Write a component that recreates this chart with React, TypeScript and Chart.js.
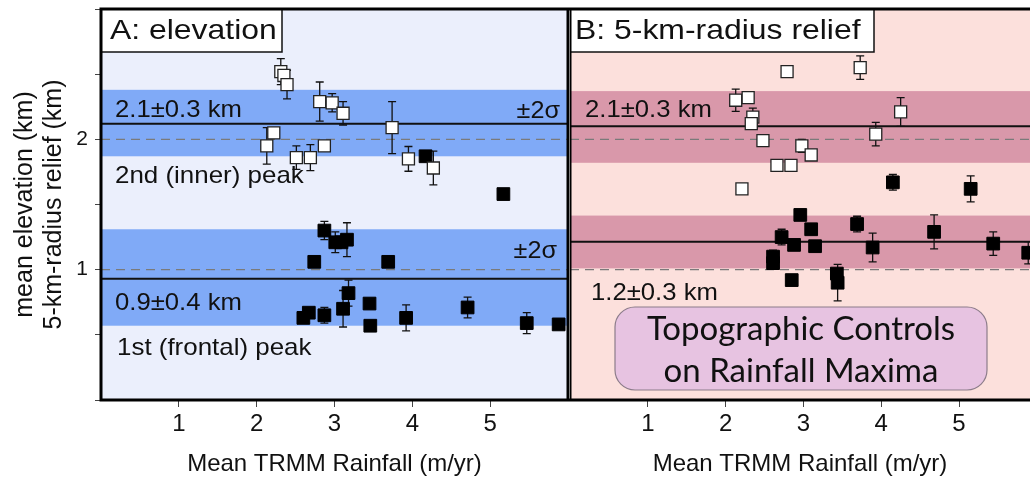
import React, { useEffect, useRef } from "react";
import { Chart, registerables } from "chart.js";

Chart.register(...registerables);

const FONT = "'Liberation Sans', Arial, Helvetica, sans-serif";
const BOX_FONT = "Lato, 'Open Sans', sans-serif";

// ---------------- data ----------------
const xTickLabels = [1, 2, 3, 4, 5];
const yTickLabels = [1, 2];
const refLevels = [1, 2];

// Panel A: mean elevation
const aInnerX = [2.31, 2.35, 2.39, 2.81, 2.97, 3.11, 3.74, 2.22, 2.13, 2.51, 2.69, 2.87, 3.95, 4.27];
const aInnerY = [2.52, 2.49, 2.42, 2.29, 2.28, 2.2, 2.09, 2.05, 1.95, 1.86, 1.86, 1.95, 1.85, 1.78];
const aInnerErr = [0.1, 0, 0.11, 0.15, 0.07, 0.09, 0.2, 0, 0.14, 0.09, 0.1, 0, 0.095, 0.13];

const aFrontalX = [4.17, 5.17, 2.87, 2.74, 3.01, 3.09, 3.16, 3.69, 2.6, 2.67, 2.87, 3.18, 3.11, 3.45, 3.46, 3.92, 4.71, 5.47, 5.88];
const aFrontalY = [1.87, 1.58, 1.3, 1.06, 1.21, 1.21, 1.23, 1.06, 0.63, 0.67, 0.65, 0.82, 0.7, 0.74, 0.57, 0.63, 0.71, 0.59, 0.58];
const aFrontalErr = [0, 0, 0.07, 0, 0.08, 0, 0.13, 0, 0, 0, 0.06, 0.1, 0.14, 0, 0, 0.1, 0.08, 0.08, 0];

const aBandLow = [1.87, 0.57];
const aBandHigh = [2.38, 1.31];
const aMean = [2.12, 0.93];

// Panel B: 5-km-radius relief
const bInnerX = [2.79, 2.13, 2.29, 2.35, 2.33, 2.48, 2.98, 2.66, 2.84, 2.21, 3.73, 4.25, 3.93, 3.1];
const bInnerY = [2.52, 2.3, 2.32, 2.17, 2.12, 1.99, 1.95, 1.8, 1.8, 1.62, 2.55, 2.21, 2.04, 1.88];
const bInnerErr = [0, 0.085, 0, 0.07, 0, 0.04, 0.05, 0, 0.04, 0, 0.09, 0.11, 0.09, 0];

const bFrontalX = [4.15, 5.15, 2.96, 2.72, 2.88, 2.61, 2.61, 2.85, 3.1, 3.15, 3.69, 3.89, 3.43, 3.44, 4.68, 5.44, 5.89];
const bFrontalY = [1.67, 1.62, 1.42, 1.25, 1.19, 1.1, 1.05, 0.92, 1.31, 1.18, 1.35, 1.17, 0.97, 0.9, 1.29, 1.2, 1.13];
const bFrontalErr = [0.06, 0.1, 0, 0.06, 0, 0.05, 0, 0, 0, 0, 0.06, 0.11, 0, 0.14, 0.13, 0.09, 0.085];

const bBandLow = [1.82, 1.01];
const bBandHigh = [2.37, 1.415];
const bMean = [2.1, 1.215];

const aTitle = "A: elevation";
const bTitle = "B: 5-km-radius relief";
const aLabels = ["2.1±0.3 km", "2nd (inner) peak", "±2σ", "±2σ", "0.9±0.4 km", "1st (frontal) peak"];
const bLabels = ["2.1±0.3 km", "1.2±0.3 km"];
const boxLines = ["Topographic Controls", "on Rainfall Maxima"];
const xTitle = "Mean TRMM Rainfall (m/yr)";
const yTitle = ["mean elevation (km)", "5-km-radius relief (km)"];

// ---------------- helpers ----------------
function toPoints(xs: number[], ys: number[]) {
  return xs.map((x, i) => ({ x, y: ys[i] }));
}

function drawText(
  ctx: CanvasRenderingContext2D,
  s: string,
  x: number,
  y: number,
  size: number,
  sx: number,
  align: "left" | "right" | "center" = "left",
  family = FONT,
  color = "#111"
) {
  ctx.save();
  ctx.font = `${size}px ${family}`;
  ctx.fillStyle = color;
  ctx.textBaseline = "alphabetic";
  ctx.textAlign = "left";
  const w = ctx.measureText(s).width * sx;
  const x0 = align === "left" ? x : align === "right" ? x - w : x - w / 2;
  ctx.translate(x0, y);
  ctx.scale(sx, 1);
  ctx.fillText(s, 0, 0);
  ctx.restore();
}

function roundRect(ctx: CanvasRenderingContext2D, x: number, y: number, w: number, h: number, r: number) {
  ctx.beginPath();
  ctx.moveTo(x + r, y);
  ctx.lineTo(x + w - r, y);
  ctx.arcTo(x + w, y, x + w, y + r, r);
  ctx.lineTo(x + w, y + h - r);
  ctx.arcTo(x + w, y + h, x + w - r, y + h, r);
  ctx.lineTo(x + r, y + h);
  ctx.arcTo(x, y + h, x, y + h - r, r);
  ctx.lineTo(x, y + r);
  ctx.arcTo(x, y, x + r, y, r);
  ctx.closePath();
}

type Label = { t: string; x: number; y: number; size: number; sx: number; align: "left" | "right" };

type PanelCfg = {
  bg: string;
  band: string;
  low: number[];
  high: number[];
  mean: number[];
  errs: number[][];
  labels: Label[];
  title: { text: string; x0: number; x1: number; y0: number; y1: number; tx: number; ty: number };
  rightFrame: boolean;
  bigBox?: { x: number; y: number; w: number; h: number; cx: number; lines: string[]; baselines: number[] };
};

function panelPlugin(p: PanelCfg) {
  return {
    id: "panelDecor",
    beforeDraw(chart: any) {
      const { ctx, chartArea: ca, scales } = chart;
      const ys = scales.y;
      const w = ca.right - ca.left;
      ctx.save();
      ctx.fillStyle = p.bg;
      ctx.fillRect(ca.left, ca.top, w, ca.bottom - ca.top);
      ctx.fillStyle = p.band;
      p.low.forEach((lo, i) => {
        const y1 = ys.getPixelForValue(p.high[i]);
        const y2 = ys.getPixelForValue(lo);
        ctx.fillRect(ca.left, y1, w, y2 - y1);
      });
      ctx.strokeStyle = "#7a7a7a";
      ctx.lineWidth = 1.3;
      ctx.setLineDash([9, 6]);
      refLevels.forEach((v) => {
        const y = ys.getPixelForValue(v);
        ctx.beginPath();
        ctx.moveTo(ca.left, y);
        ctx.lineTo(ca.right, y);
        ctx.stroke();
      });
      ctx.setLineDash([]);
      ctx.strokeStyle = "#111";
      ctx.lineWidth = 2;
      p.mean.forEach((v) => {
        const y = ys.getPixelForValue(v);
        ctx.beginPath();
        ctx.moveTo(ca.left, y);
        ctx.lineTo(ca.right, y);
        ctx.stroke();
      });
      p.labels.forEach((l) => drawText(ctx, l.t, l.x, l.y, l.size, l.sx, l.align));
      ctx.restore();
    },
    beforeDatasetsDraw(chart: any) {
      const { ctx, chartArea: ca, scales } = chart;
      const xs = scales.x;
      const ys = scales.y;
      ctx.save();
      ctx.beginPath();
      ctx.rect(ca.left, ca.top, ca.right - ca.left, ca.bottom - ca.top);
      ctx.clip();
      ctx.strokeStyle = "#111";
      ctx.lineWidth = 1.3;
      chart.data.datasets.forEach((ds: any, di: number) => {
        const errs = p.errs[di];
        ds.data.forEach((pt: any, j: number) => {
          const e = errs[j];
          if (!e) return;
          const x = xs.getPixelForValue(pt.x);
          const y1 = ys.getPixelForValue(pt.y + e);
          const y2 = ys.getPixelForValue(pt.y - e);
          ctx.beginPath();
          ctx.moveTo(x, y1);
          ctx.lineTo(x, y2);
          ctx.moveTo(x - 4, y1);
          ctx.lineTo(x + 4, y1);
          ctx.moveTo(x - 4, y2);
          ctx.lineTo(x + 4, y2);
          ctx.stroke();
        });
      });
      ctx.restore();
    },
    afterDatasetsDraw(chart: any) {
      const { ctx, chartArea: ca } = chart;
      ctx.save();
      // title box
      const t = p.title;
      ctx.fillStyle = "#fff";
      ctx.fillRect(t.x0, t.y0, t.x1 - t.x0, t.y1 - t.y0);
      ctx.strokeStyle = "#111";
      ctx.lineWidth = 1.5;
      ctx.strokeRect(t.x0, t.y0, t.x1 - t.x0, t.y1 - t.y0);
      drawText(ctx, t.text, t.tx, t.ty, 28, 1.14, "left");
      // big box
      if (p.bigBox) {
        const b = p.bigBox;
        roundRect(ctx, b.x, b.y, b.w, b.h, 20);
        ctx.fillStyle = "#E7C3E1";
        ctx.fill();
        ctx.strokeStyle = "#8c7c8a";
        ctx.lineWidth = 1.2;
        ctx.stroke();
        b.lines.forEach((s, i) => drawText(ctx, s, b.cx, b.baselines[i], 33, 1.0, "center", BOX_FONT, "#111"));
      }
      // frame
      ctx.strokeStyle = "#000";
      ctx.lineWidth = 3;
      ctx.beginPath();
      ctx.moveTo(ca.left, ca.top);
      ctx.lineTo(ca.right + 2, ca.top);
      ctx.moveTo(ca.left, ca.bottom);
      ctx.lineTo(ca.right + 2, ca.bottom);
      ctx.moveTo(ca.left, ca.top - 1.5);
      ctx.lineTo(ca.left, ca.bottom + 1.5);
      if (p.rightFrame) {
        ctx.moveTo(ca.right, ca.top - 1.5);
        ctx.lineTo(ca.right, ca.bottom + 1.5);
      }
      ctx.stroke();
      ctx.restore();
    },
  };
}

function buildOptions(isA: boolean, xmax: number) {
  const y: any = {
    display: isA,
    min: 0,
    max: 3,
    ticks: {
      stepSize: 0.5,
      autoSkip: false,
      includeBounds: false,
      padding: 7,
      color: "#111",
      font: { size: 21, family: FONT },
      callback: (v: number) => (yTickLabels.includes(v) ? String(v) : ""),
    },
    grid: { display: true, drawOnChartArea: false, drawTicks: true, tickLength: 6, color: "#444", lineWidth: 1 },
    border: { display: false },
    title: {
      display: true,
      text: yTitle,
      color: "#111",
      font: { size: 25, family: FONT, lineHeight: 1.16 },
      padding: { top: 10.5, bottom: 0 },
    },
  };
  if (isA)
    y.afterFit = (s: any) => {
      s.width = 101;
      s.paddingTop = 0;
      s.paddingBottom = 0;
      s.paddingLeft = 0;
      s.paddingRight = 0;
    };
  return {
    animation: false as const,
    responsive: true,
    maintainAspectRatio: false,
    layout: { autoPadding: false, padding: { top: 9, right: isA ? 2 : 0, bottom: 0, left: 0 } },
    plugins: { legend: { display: false }, tooltip: { enabled: false } },
    scales: {
      x: {
        type: "linear" as const,
        min: 0,
        max: xmax,
        afterFit: (s: any) => {
          s.height = 82;
          s.paddingLeft = 0;
          s.paddingRight = 0;
          s.paddingTop = 0;
          s.paddingBottom = 0;
        },
        ticks: {
          stepSize: 1,
          autoSkip: false,
          includeBounds: false,
          maxRotation: 0,
          padding: 3,
          color: "#111",
          font: { size: 24, family: FONT },
          callback: (v: number) => (xTickLabels.includes(v) ? String(v) : null),
        },
        grid: { display: true, drawOnChartArea: false, drawTicks: true, tickLength: 7, color: "#444", lineWidth: 1 },
        border: { display: false },
        title: {
          display: true,
          text: xTitle,
          color: "#111",
          font: { size: 24, family: FONT },
          padding: { top: 0, bottom: 3 },
        },
      },
      y,
    },
  };
}

function makeDatasets(ix: number[], iy: number[], fx: number[], fy: number[]) {
  return [
    {
      label: "2nd (inner) peak",
      data: toPoints(ix, iy),
      pointStyle: "rect",
      pointRadius: 8.5,
      backgroundColor: "#ffffff",
      borderColor: "#222",
      borderWidth: 1.3,
      showLine: false,
    },
    {
      label: "1st (frontal) peak",
      data: toPoints(fx, fy),
      pointStyle: "rect",
      pointRadius: 9,
      backgroundColor: "#000",
      borderColor: "#000",
      borderWidth: 1,
      showLine: false,
    },
  ];
}

function Panel({ isA }: { isA: boolean }) {
  const ref = useRef<HTMLCanvasElement | null>(null);
  useEffect(() => {
    if (!ref.current) return;
    const cfg: PanelCfg = isA
      ? {
          bg: "#EBEFFC",
          band: "#80AAF7",
          low: aBandLow,
          high: aBandHigh,
          mean: aMean,
          errs: [aInnerErr, aFrontalErr],
          labels: [
            { t: aLabels[0], x: 115, y: 117, size: 24, sx: 1.07, align: "left" },
            { t: aLabels[1], x: 115, y: 183, size: 24, sx: 1.08, align: "left" },
            { t: aLabels[2], x: 560, y: 118, size: 24, sx: 1.05, align: "right" },
            { t: aLabels[3], x: 557, y: 258, size: 24, sx: 1.05, align: "right" },
            { t: aLabels[4], x: 115, y: 310, size: 24, sx: 1.07, align: "left" },
            { t: aLabels[5], x: 117, y: 355, size: 24, sx: 1.08, align: "left" },
          ],
          title: { text: aTitle, x0: 101, x1: 282, y0: 9, y1: 52, tx: 110, ty: 39 },
          rightFrame: true,
        }
      : {
          bg: "#FCE0DC",
          band: "#D998AA",
          low: bBandLow,
          high: bBandHigh,
          mean: bMean,
          errs: [bInnerErr, bFrontalErr],
          labels: [
            { t: bLabels[0], x: 15, y: 117, size: 24, sx: 1.07, align: "left" },
            { t: bLabels[1], x: 21, y: 300, size: 24, sx: 1.07, align: "left" },
          ],
          title: { text: bTitle, x0: -2, x1: 304, y0: 9, y1: 52, tx: 5, ty: 39 },
          rightFrame: false,
          bigBox: { x: 45, y: 307, w: 372, h: 83, cx: 231, lines: boxLines, baselines: [340, 382] },
        };
    const chart = new Chart(ref.current, {
      type: "scatter",
      data: {
        datasets: isA
          ? (makeDatasets(aInnerX, aInnerY, aFrontalX, aFrontalY) as any)
          : (makeDatasets(bInnerX, bInnerY, bFrontalX, bFrontalY) as any),
      },
      options: buildOptions(isA, isA ? 6 : 460 / 77.8) as any,
      plugins: [panelPlugin(cfg)],
    });
    return () => chart.destroy();
  }, [isA]);
  return <canvas ref={ref} />;
}

export default function App() {
  return (
    <div style={{ position: "fixed", left: 0, top: 0, width: 1030, height: 482, background: "#fff", overflow: "hidden" }}>
      <div style={{ position: "absolute", left: 0, top: 0, width: 570, height: 482 }}>
        <Panel isA={true} />
      </div>
      <div style={{ position: "absolute", left: 570, top: 0, width: 460, height: 482 }}>
        <Panel isA={false} />
      </div>
    </div>
  );
}
